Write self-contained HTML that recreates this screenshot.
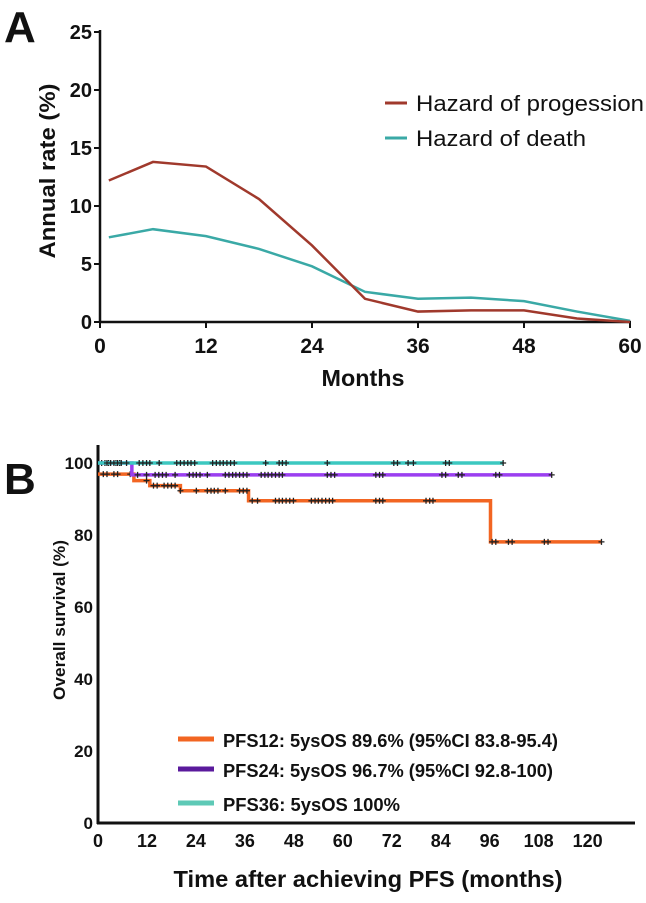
<!DOCTYPE html>
<html><head><meta charset="utf-8"><style>
body{margin:0;background:#fff;width:646px;height:898px;overflow:hidden}
svg text{font-family:"Liberation Sans",Arial,sans-serif;fill:#111}
</style></head><body>
<svg id="c" width="646" height="898" xmlns="http://www.w3.org/2000/svg">
<text x="4" y="42" font-size="44" font-weight="bold">A</text>
<text x="4" y="494" font-size="44" font-weight="bold">B</text>
<g id="ga"></g>
<g id="gb"></g>
</svg>
<script>
// Panel A data
const monthsA=[1,6,12,18,24,30,36,42,48,54,60];
const progression=[12.2,13.8,13.4,10.6,6.6,2.0,0.9,1.0,1.0,0.3,0];
const death=[7.3,8.0,7.4,6.3,4.8,2.6,2.0,2.1,1.8,0.9,0.1];
const xTicksA=[0,12,24,36,48,60];
const yTicksA=[0,5,10,15,20,25];
// Panel B data
const xTicksB=[0,12,24,36,48,60,72,84,96,108,120];
const yTicksB=[0,20,40,60,80,100];
const pfs12StepT=[0,8.8,12.7,20.2,36.9,96.2];
const pfs12StepV=[96.9,95.1,93.7,92.3,89.5,78.1];
const pfs12End=123.4;
const pfs12Cens=[1.3,2.2,3.9,4.8,7.9,11.9,13.6,14.5,16.2,17.1,18.0,18.9,20.2,24.1,26.8,27.7,28.5,29.4,31.2,34.7,35.6,36.5,37.8,39.1,43.5,44.4,45.2,46.1,47.0,47.9,52.3,53.2,54.0,54.9,55.8,56.7,57.5,68.1,69.0,69.8,80.4,81.3,82.1,96.6,97.5,100.6,101.5,109.4,110.3,123.4];
const pfs24StepT=[0,8.3];
const pfs24StepV=[100,96.7];
const pfs24End=111.2;
const pfs24Cens=[0.9,1.7,2.6,4.4,5.3,9.7,11.9,14.0,14.9,15.8,16.7,18.9,22.4,23.3,24.1,25.0,26.8,31.2,32.1,33.0,33.8,34.7,35.6,36.5,40.0,40.9,41.7,42.6,43.5,44.4,45.2,56.2,57.1,58.0,68.1,69.0,69.8,84.3,85.2,88.3,89.2,97.5,98.4,111.2];
const pfs36StepT=[0];
const pfs36StepV=[100];
const pfs36End=99.3;
const pfs36Cens=[2.2,3.1,3.9,4.8,5.7,7.0,10.1,11.0,11.9,12.7,15.0,19.3,20.2,21.1,22.0,22.8,23.7,28.1,29.0,29.9,30.7,31.6,32.5,33.4,41.1,44.4,45.2,46.1,56.2,72.5,73.4,76.0,77.3,85.2,86.1,99.3];

const NS="http://www.w3.org/2000/svg";
function mk(parent,tag,attrs,text){const e=document.createElementNS(NS,tag);for(const k in attrs)e.setAttribute(k,attrs[k]);if(text!==undefined)e.textContent=text;parent.appendChild(e);return e;}

// ---- Panel A
const ga=document.getElementById('ga');
const xa=m=>100+m*(530/60);
const ya=v=>322-v*(290/25);
let e;
e=mk(ga,'line',{x1:100,y1:30,x2:100,y2:323,stroke:'#111','stroke-width':2.5});


e=mk(ga,'line',{x1:99,y1:322,x2:631,y2:322,stroke:'#111','stroke-width':2.5});


yTicksA.forEach(v=>{
 mk(ga,'line',{x1:94,y1:ya(v),x2:100,y2:ya(v),stroke:'#111','stroke-width':2});
 e=mk(ga,'text',{x:92,y:ya(v)+7,'font-size':20,'font-weight':'bold','text-anchor':'end'},v);
 
 
});
xTicksA.forEach(m=>{
 mk(ga,'line',{x1:xa(m),y1:322,x2:xa(m),y2:328,stroke:'#111','stroke-width':2});
 e=mk(ga,'text',{x:xa(m),y:353,'font-size':21,'font-weight':'bold','text-anchor':'middle'},m);
 
 
});
e=mk(ga,'text',{x:363,y:386,'font-size':23,'font-weight':'bold','text-anchor':'middle',textLength:83,lengthAdjust:'spacingAndGlyphs'},'Months');


e=mk(ga,'text',{x:0,y:0,'font-size':22,'font-weight':'bold','text-anchor':'middle',textLength:175,lengthAdjust:'spacingAndGlyphs',transform:'translate(55,171) rotate(-90)'},'Annual rate (%)');


function pl(xs,ys,fx,fy){return xs.map((m,i)=>fx(m)+','+fy(ys[i])).join(' ');}
e=mk(ga,'polyline',{points:pl(monthsA,death,xa,ya),fill:'none',stroke:'#3aa9a6','stroke-width':2.5});


e=mk(ga,'polyline',{points:pl(monthsA,progression,xa,ya),fill:'none',stroke:'#a0392c','stroke-width':2.5});


e=mk(ga,'line',{x1:385,y1:103,x2:407,y2:103,stroke:'#a0392c','stroke-width':3});


e=mk(ga,'text',{x:416,y:111,'font-size':22,textLength:228,lengthAdjust:'spacingAndGlyphs'},'Hazard of progession');


e=mk(ga,'line',{x1:385,y1:138,x2:407,y2:138,stroke:'#3aa9a6','stroke-width':3});


e=mk(ga,'text',{x:416,y:146,'font-size':22,textLength:170,lengthAdjust:'spacingAndGlyphs'},'Hazard of death');



// ---- Panel B
const gb=document.getElementById('gb');
const xb=m=>98+m*4.08;
const yb=v=>823-v*3.6;
e=mk(gb,'line',{x1:98,y1:445,x2:98,y2:824,stroke:'#111','stroke-width':3});


e=mk(gb,'line',{x1:97,y1:823,x2:635,y2:823,stroke:'#111','stroke-width':3});


yTicksB.forEach(v=>{
 e=mk(gb,'text',{x:93,y:yb(v)+6,'font-size':17,'font-weight':'bold','text-anchor':'end'},v);
 
 
});
xTicksB.forEach(m=>{
 e=mk(gb,'text',{x:xb(m),y:847,'font-size':18,'font-weight':'bold','text-anchor':'middle'},m);
 
 
});
e=mk(gb,'text',{x:368,y:887,'font-size':23,'font-weight':'bold','text-anchor':'middle',textLength:389,lengthAdjust:'spacingAndGlyphs'},'Time after achieving PFS (months)');


e=mk(gb,'text',{x:0,y:0,'font-size':17,'font-weight':'bold','text-anchor':'middle',textLength:160,lengthAdjust:'spacingAndGlyphs',transform:'translate(65,620) rotate(-90)'},'Overall survival (%)');


function valAt(T,V,t){let v=V[0];for(let i=0;i<T.length;i++){if(t>=T[i])v=V[i];}return v;}
function km(T,V,end,cens,color,name){
 let d='M'+xb(T[0])+','+yb(V[0]);
 for(let i=1;i<T.length;i++){d+=' H'+xb(T[i])+' V'+yb(V[i]);}
 d+=' H'+xb(end);
 const p=mk(gb,'path',{d:d,fill:'none',stroke:color,'stroke-width':3.5});
 
 
 cens.forEach(t=>{
  const x=xb(t),y=yb(valAt(T,V,t));
  const c=mk(gb,'path',{d:`M${x-3},${y} H${x+3} M${x},${y-3} V${y+3}`,stroke:'#222','stroke-width':1.3});
  
  
 });
}
km(pfs12StepT,pfs12StepV,pfs12End,pfs12Cens,'#f26522','pfs12');
km(pfs24StepT,pfs24StepV,pfs24End,pfs24Cens,'#9b3ff0','pfs24');
km(pfs36StepT,pfs36StepV,pfs36End,pfs36Cens,'#3cc8c0','pfs36');
const leg=[['#f26522','PFS12: 5ysOS 89.6% (95%CI 83.8-95.4)',739,'pfs12',335],['#5a1a9c','PFS24: 5ysOS 96.7% (95%CI 92.8-100)',769,'pfs24',330],['#5ec9b6','PFS36: 5ysOS 100%',803,'pfs36',177]];
leg.forEach(l=>{
 e=mk(gb,'line',{x1:178,y1:l[2],x2:214,y2:l[2],stroke:l[0],'stroke-width':5});
 
 
 e=mk(gb,'text',{x:223,y:l[2]+8,'font-size':18,'font-weight':'bold',textLength:l[4],lengthAdjust:'spacingAndGlyphs'},l[1]);
 
 
});
</script>
</body></html>
